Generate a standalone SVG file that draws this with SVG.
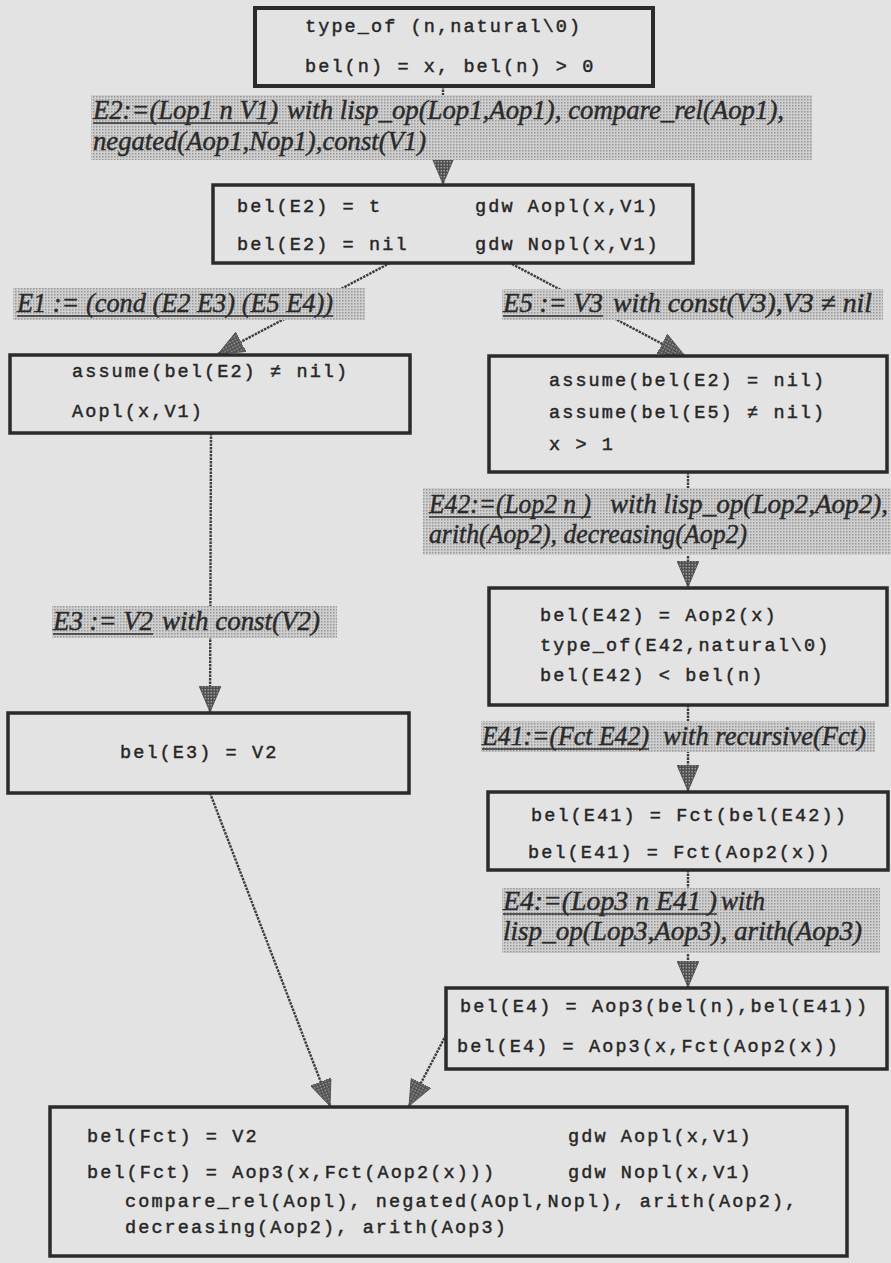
<svg xmlns="http://www.w3.org/2000/svg" width="891" height="1263" viewBox="0 0 891 1263">
  <defs>
    <style>
      .mono{font-family:"Liberation Mono","DejaVu Sans Mono",monospace;font-size:18.5px;letter-spacing:2.1px;fill:#262626;stroke:#262626;stroke-width:0.45}
      .lab{font-family:"Liberation Serif","Times New Roman",serif;font-style:italic;font-size:27px;fill:#2a2a2a;stroke:#2a2a2a;stroke-width:0.45}
      .box{fill:none;stroke:#2b2b2b;stroke-width:3.5}
      .band{fill:url(#halftone)}
      .ul{stroke:#2e2e2e;stroke-width:1.7}
      .conn{stroke:#3d3d3d;stroke-width:2.4;fill:none;stroke-dasharray:2.5 1;marker-end:url(#head)}
    </style>
    <!-- light halftone screen used behind the edge labels -->
    <pattern id="halftone" width="3" height="3" patternUnits="userSpaceOnUse">
      <rect width="3" height="3" fill="#cfcfcf"/>
      <rect width="1.5" height="1.5" fill="#989898"/>
    </pattern>
    <!-- dark halftone for arrowheads -->
    <pattern id="darkscreen" width="3" height="3" patternUnits="userSpaceOnUse">
      <rect width="3" height="3" fill="#4e4e4e"/>
      <rect width="1.5" height="1.5" fill="#a0a0a0"/>
    </pattern>
    <marker id="head" viewBox="0 0 26 22" refX="26" refY="11" markerWidth="26" markerHeight="22" markerUnits="userSpaceOnUse" orient="auto">
      <path d="M0,0 L26,11 L0,22 Z" fill="url(#darkscreen)" stroke="#4a4a4a" stroke-width="0.8"/>
    </marker>
  </defs>

  <rect width="891" height="1263" fill="#e3e3e3"/>

  <!-- connectors -->
  <g id="connectors">
    <path class="conn" d="M443,86 L443,184"/>
    <path class="conn" d="M390,263 L218,354"/>
    <path class="conn" d="M512,264 L685,356"/>
    <path class="conn" d="M211,433 L210,712"/>
    <path class="conn" d="M688,472 L688,587"/>
    <path class="conn" d="M688,705 L688,791"/>
    <path class="conn" d="M688,870 L688,987"/>
    <path class="conn" d="M210,793 L330,1106"/>
    <path class="conn" d="M446,1035 L409,1106"/>
  </g>

  <!-- edge labels -->
  <g id="label-E2">
    <rect class="band" x="91" y="95" width="721" height="65"/>
    <text class="lab" x="93" y="119" textLength="185" lengthAdjust="spacingAndGlyphs">E2:=(Lop1 n V1)</text>
    <line class="ul" x1="93" y1="123" x2="278" y2="123"/>
    <text class="lab" x="287" y="119" textLength="497" lengthAdjust="spacingAndGlyphs">with lisp_op(Lop1,Aop1), compare_rel(Aop1),</text>
    <text class="lab" x="93" y="150" textLength="333" lengthAdjust="spacingAndGlyphs">negated(Aop1,Nop1),const(V1)</text>
  </g>
  <g id="label-E1">
    <rect class="band" x="13" y="288" width="352" height="32"/>
    <text class="lab" x="17" y="312" textLength="316" lengthAdjust="spacingAndGlyphs">E1 := (cond (E2 E3) (E5 E4))</text>
    <line class="ul" x1="17" y1="316" x2="333" y2="316"/>
  </g>
  <g id="label-E5">
    <rect class="band" x="502" y="289" width="381" height="31"/>
    <text class="lab" x="503" y="312" textLength="100" lengthAdjust="spacingAndGlyphs">E5 := V3</text>
    <line class="ul" x1="503" y1="316" x2="603" y2="316"/>
    <text class="lab" x="613" y="312" textLength="259" lengthAdjust="spacingAndGlyphs">with const(V3),V3  ≠ nil</text>
  </g>
  <g id="label-E3">
    <rect class="band" x="52" y="606" width="285" height="32"/>
    <text class="lab" x="53" y="630" textLength="100" lengthAdjust="spacingAndGlyphs">E3 := V2</text>
    <line class="ul" x1="53" y1="634" x2="153" y2="634"/>
    <text class="lab" x="162" y="630" textLength="158" lengthAdjust="spacingAndGlyphs">with const(V2)</text>
  </g>
  <g id="label-E42">
    <rect class="band" x="423" y="488" width="468" height="67"/>
    <text class="lab" x="429" y="513" textLength="162" lengthAdjust="spacingAndGlyphs">E42:=(Lop2 n )</text>
    <line class="ul" x1="429" y1="517" x2="591" y2="517"/>
    <text class="lab" x="610" y="513" textLength="278" lengthAdjust="spacingAndGlyphs">with lisp_op(Lop2,Aop2),</text>
    <text class="lab" x="429" y="543" textLength="318" lengthAdjust="spacingAndGlyphs">arith(Aop2), decreasing(Aop2)</text>
  </g>
  <g id="label-E41">
    <rect class="band" x="481" y="721" width="394" height="31"/>
    <text class="lab" x="482" y="745" textLength="167" lengthAdjust="spacingAndGlyphs">E41:=(Fct E42)</text>
    <line class="ul" x1="482" y1="749" x2="649" y2="749"/>
    <text class="lab" x="663" y="745" textLength="203" lengthAdjust="spacingAndGlyphs">with recursive(Fct)</text>
  </g>
  <g id="label-E4">
    <rect class="band" x="502" y="888" width="378" height="65"/>
    <text class="lab" x="503" y="910" textLength="214" lengthAdjust="spacingAndGlyphs">E4:=(Lop3 n E41 )</text>
    <line class="ul" x1="503" y1="914" x2="717" y2="914"/>
    <text class="lab" x="721" y="910" textLength="44" lengthAdjust="spacingAndGlyphs">with</text>
    <text class="lab" x="503" y="940" textLength="359" lengthAdjust="spacingAndGlyphs">lisp_op(Lop3,Aop3), arith(Aop3)</text>
  </g>

  <!-- nodes -->
  <g id="node-n">
    <rect class="box" x="255" y="8" width="398" height="78" style="stroke-width:4"/>
    <text class="mono" x="305" y="32">type_of (n,natural\0)</text>
    <text class="mono" x="305" y="72">bel(n) = x, bel(n) &gt; 0</text>
  </g>
  <g id="node-E2">
    <rect class="box" x="213" y="185" width="480" height="78"/>
    <text class="mono" x="237" y="212">bel(E2) = t</text>
    <text class="mono" x="475" y="212">gdw Aopl(x,V1)</text>
    <text class="mono" x="237" y="250">bel(E2) = nil</text>
    <text class="mono" x="475" y="250">gdw Nopl(x,V1)</text>
  </g>
  <g id="node-E2-true">
    <rect class="box" x="10" y="355" width="400" height="78"/>
    <text class="mono" x="72" y="377">assume(bel(E2) ≠ nil)</text>
    <text class="mono" x="72" y="417">Aopl(x,V1)</text>
  </g>
  <g id="node-E2-nil">
    <rect class="box" x="489" y="356" width="398" height="116"/>
    <text class="mono" x="549" y="386">assume(bel(E2) = nil)</text>
    <text class="mono" x="549" y="418">assume(bel(E5) ≠ nil)</text>
    <text class="mono" x="549" y="450">x &gt; 1</text>
  </g>
  <g id="node-E42">
    <rect class="box" x="489" y="588" width="398" height="117"/>
    <text class="mono" x="540" y="621">bel(E42) = Aop2(x)</text>
    <text class="mono" x="540" y="651">type_of(E42,natural\0)</text>
    <text class="mono" x="540" y="681">bel(E42) &lt; bel(n)</text>
  </g>
  <g id="node-E3">
    <rect class="box" x="8" y="713" width="401" height="80"/>
    <text class="mono" x="120" y="758">bel(E3) = V2</text>
  </g>
  <g id="node-E41">
    <rect class="box" x="488" y="792" width="400" height="78"/>
    <text class="mono" x="531" y="821">bel(E41) = Fct(bel(E42))</text>
    <text class="mono" x="528" y="858">bel(E41) = Fct(Aop2(x))</text>
  </g>
  <g id="node-E4">
    <rect class="box" x="446" y="988" width="441" height="81"/>
    <text class="mono" x="460" y="1012">bel(E4) = Aop3(bel(n),bel(E41))</text>
    <text class="mono" x="457" y="1052">bel(E4) = Aop3(x,Fct(Aop2(x))</text>
  </g>
  <g id="node-Fct">
    <rect class="box" x="50" y="1107" width="797" height="149"/>
    <text class="mono" x="87" y="1142">bel(Fct) = V2</text>
    <text class="mono" x="568" y="1142">gdw Aopl(x,V1)</text>
    <text class="mono" x="87" y="1178">bel(Fct) = Aop3(x,Fct(Aop2(x)))</text>
    <text class="mono" x="568" y="1178">gdw Nopl(x,V1)</text>
    <text class="mono" x="125" y="1207">compare_rel(Aopl), negated(AOpl,Nopl), arith(Aop2),</text>
    <text class="mono" x="125" y="1233">decreasing(Aop2), arith(Aop3)</text>
  </g>
</svg>
